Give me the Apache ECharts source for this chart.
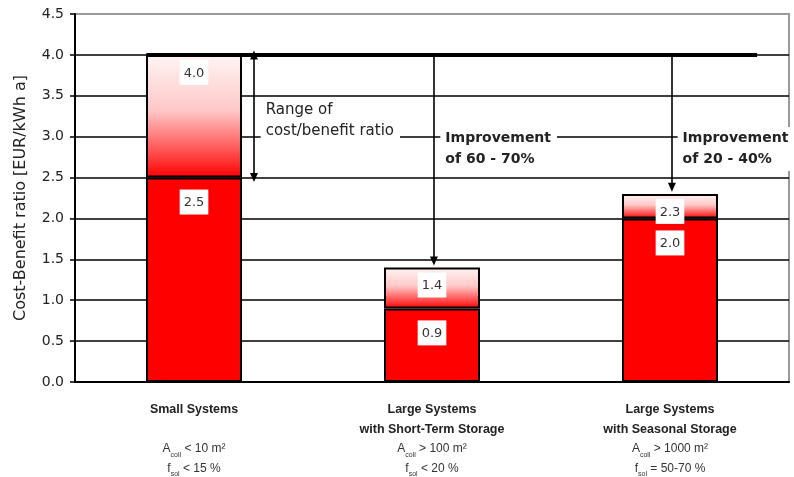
<!DOCTYPE html>
<html>
<head>
<meta charset="utf-8">
<title>Cost-benefit ratio of solar thermal systems</title>
<script src="https://cdn.jsdelivr.net/npm/echarts@6/dist/echarts.min.js"></script>
<style>
  html, body { margin: 0; padding: 0; background: #fff; }
  #chart { width: 794px; height: 477px; }
</style>
</head>
<body>
<div id="chart"></div>
<script>
// System classes shown along the x axis
const categoryTitles = [
  'Small Systems',
  'Large Systems\nwith Short-Term Storage',
  'Large Systems\nwith Seasonal Storage'
];
const collectorArea = ['< 10 m²', '> 100 m²', '> 1000 m²'];
const solarFraction = ['< 15 %', '< 20 %', '= 50-70 %'];

// Cost/benefit ratio range per class [EUR/kWh a]
const lowerRatio = [2.5, 0.9, 2.0];
const upperRatio = [4.0, 1.4, 2.3];

// Value axis
const yMin = 0, yMax = 4.5, yStep = 0.5;

const annotationTexts = {
  range: 'Range of\ncost/benefit ratio',
  shortTerm: 'Improvement\nof 60 - 70%',
  seasonal: 'Improvement\nof 20 - 40%'
};

const SANS = 'DejaVu Sans';
const ARIAL = 'Liberation Sans, Arial';

const chart = echarts.init(document.getElementById('chart'), null, { renderer: 'canvas' });

const spanValues = upperRatio.map((u, i) => +(u - lowerRatio[i]).toFixed(2));

// Split lines: black inside the plot, grey at the top frame
const splitColors = [];
for (let v = yMin; v <= yMax + 1e-9; v += yStep) splitColors.push(v >= yMax - 1e-9 ? '#9a9a9a' : '#000');

const valueLabel = (extra) => Object.assign({
  show: true,
  position: 'insideTop',
  fontFamily: SANS,
  fontSize: 13,
  color: '#333',
  backgroundColor: '#fff',
  padding: [7, 4, 5, 4]
}, extra);

const arrowLine = (x, yFrom, yTo, startSym, endSym) => [
  { coord: [x, yFrom], symbol: startSym, symbolSize: [8, 9] },
  { coord: [x, yTo], symbol: endSym, symbolSize: [8, 9] }
];

const textNote = (x, y, text, bold) => ({
  coord: [x, y],
  symbol: 'circle',
  symbolSize: 0,
  label: {
    show: true,
    position: 'right',
    distance: 0,
    formatter: text,
    align: 'left',
    fontFamily: SANS,
    fontSize: bold ? 14 : 15,
    fontWeight: bold ? 'bold' : 'normal',
    lineHeight: 21,
    color: '#222',
    backgroundColor: '#fff',
    padding: [1, 6, 1, 5]
  }
});

const arrowGap = 0.08;

const option = {
  animation: false,
  backgroundColor: '#fff',
  grid: {
    left: 75, right: 5, top: 14, bottom: 95,
    outerBoundsMode: 'none',
    containLabel: false,
    show: true, borderColor: '#9a9a9a', borderWidth: 2
  },
  xAxis: [
    {
      type: 'category',
      data: categoryTitles,
      axisLine: { lineStyle: { color: '#000', width: 2 } },
      axisTick: { show: false },
      splitLine: { show: false },
      axisLabel: {
        interval: 0,
        margin: 18,
        color: '#222',
        formatter: function (value, idx) {
          const parts = value.split('\n');
          const l1 = parts[0];
          const l2 = parts[1] || ' ';
          return '{b|' + l1 + '}\n{b|' + l2 + '}\n' +
                 '{r|A}{s|coll}{r| ' + collectorArea[idx] + '}\n' +
                 '{r|f}{s|sol}{r| ' + solarFraction[idx] + '}';
        },
        rich: {
          b: { fontFamily: ARIAL, fontWeight: 'bold', fontSize: 12.5, lineHeight: 19.5, color: '#222' },
          r: { fontFamily: ARIAL, fontSize: 12, lineHeight: 19.5, color: '#333' },
          s: { fontFamily: ARIAL, fontSize: 7, lineHeight: 13, verticalAlign: 'bottom', color: '#333' }
        }
      }
    },
    { type: 'value', min: 0, max: 3, show: false }
  ],
  yAxis: {
    type: 'value',
    min: yMin, max: yMax, interval: yStep,
    name: 'Cost-Benefit ratio [EUR/kWh a]',
    nameLocation: 'middle',
    nameGap: 46,
    nameRotate: 90,
    nameTextStyle: { fontFamily: SANS, fontSize: 16, color: '#222' },
    axisLine: { show: true, lineStyle: { color: '#000', width: 2 } },
    axisTick: { show: true, length: 5, lineStyle: { color: '#000', width: 1.5 } },
    axisLabel: {
      margin: 11,
      fontFamily: SANS, fontSize: 14, color: '#222',
      formatter: (v) => v.toFixed(1)
    },
    splitLine: { show: true, lineStyle: { color: splitColors, width: 1.5 } }
  },
  series: [
    {
      name: 'Lower bound',
      type: 'bar',
      stack: 'ratio',
      barWidth: 96,
      data: lowerRatio,
      itemStyle: { color: '#ff0000', borderColor: '#000', borderWidth: 2 },
      label: valueLabel({ distance: 12, formatter: (p) => lowerRatio[p.dataIndex].toFixed(1) }),
      z: 2
    },
    {
      name: 'Upper bound',
      type: 'bar',
      stack: 'ratio',
      barWidth: 96,
      data: spanValues,
      itemStyle: {
        color: new echarts.graphic.LinearGradient(0, 0, 0, 1, [
          { offset: 0, color: '#fff5f5' },
          { offset: 0.45, color: '#ffc8c8' },
          { offset: 0.85, color: '#ff3a3a' },
          { offset: 1, color: '#ff0000' }
        ]),
        borderColor: '#000',
        borderWidth: 2
      },
      label: valueLabel({ distance: 5, formatter: (p) => upperRatio[p.dataIndex].toFixed(1) }),
      z: 2
    },
    {
      name: 'Notes',
      type: 'line',
      xAxisIndex: 1,
      yAxisIndex: 0,
      data: [],
      silent: true,
      z: 5,
      markLine: {
        silent: true,
        animation: false,
        label: { show: false },
        lineStyle: { color: '#000', width: 1.6, type: 'solid' },
        data: [
          // reference level of the small systems, carried across the chart
          [
            { coord: [0.3, upperRatio[0]], symbol: 'none', lineStyle: { width: 4 } },
            { coord: [2.866, upperRatio[0]], symbol: 'none' }
          ],
          arrowLine(0.752, upperRatio[0], lowerRatio[0], 'triangle', 'triangle'),
          arrowLine(1.508, upperRatio[0], upperRatio[1] + arrowGap, 'none', 'triangle'),
          arrowLine(2.508, upperRatio[0], upperRatio[2] + arrowGap, 'none', 'triangle')
        ]
      },
      markPoint: {
        silent: true,
        animation: false,
        data: [
          textNote(0.78, 3.2, annotationTexts.range, false),
          textNote(1.535, 2.85, annotationTexts.shortTerm, true),
          textNote(2.532, 2.85, annotationTexts.seasonal, true)
        ]
      }
    }
  ]
};

chart.setOption(option);
</script>
</body>
</html>
